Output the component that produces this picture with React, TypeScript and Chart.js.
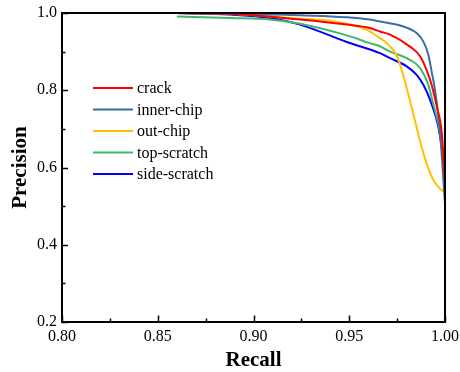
import React, { useEffect, useRef } from "react";
import { Chart, registerables } from "chart.js";

Chart.register(...registerables);

// ---- data ----
const seriesNames = ["crack", "inner-chip", "out-chip", "top-scratch", "side-scratch"];
const seriesColors = ["#ff0000", "#3a6ea5", "#ffc000", "#3cb96a", "#0000ff"];

const xTickValues = [0.8, 0.85, 0.9, 0.95, 1.0];
const yTickValues = [0.2, 0.4, 0.6, 0.8, 1.0];
const xMinorTicks = [0.825, 0.875, 0.925, 0.975];
const yMinorTicks = [0.3, 0.5, 0.7, 0.9];

const crackRecall = [0.86, 0.8877, 0.9243, 0.9487, 0.9608, 0.966, 0.9713, 0.9817, 0.987, 0.9904, 0.993, 0.9957, 0.9983, 1.0];
const crackPrecision = [1.0, 0.998, 0.983, 0.97, 0.961, 0.952, 0.944, 0.913, 0.888, 0.852, 0.814, 0.758, 0.69, 0.56];

const innerRecall = [0.86, 0.8877, 0.9243, 0.9608, 0.966, 0.9782, 0.9852, 0.9887, 0.9913, 0.993, 0.9948, 0.9974, 1.0];
const innerPrecision = [1.0, 0.998, 0.994, 0.983, 0.978, 0.965, 0.948, 0.926, 0.892, 0.849, 0.8, 0.69, 0.505];

const outRecall = [0.86, 0.8877, 0.9243, 0.94, 0.959, 0.966, 0.9695, 0.9748, 0.978, 0.98, 0.9835, 0.987, 0.9904, 0.9939, 0.9974, 1.0];
const outPrecision = [1.0, 0.998, 0.985, 0.98, 0.957, 0.935, 0.922, 0.89, 0.842, 0.806, 0.738, 0.668, 0.61, 0.568, 0.545, 0.536];

const topRecall = [0.86, 0.8877, 0.9086, 0.9243, 0.9487, 0.9608, 0.966, 0.9713, 0.98, 0.987, 0.9913, 0.9937, 0.9974, 1.0];
const topPrecision = [0.991, 0.987, 0.983, 0.972, 0.942, 0.922, 0.914, 0.9, 0.883, 0.857, 0.814, 0.767, 0.69, 0.57];

const sideRecall = [0.86, 0.8877, 0.9086, 0.9243, 0.9487, 0.966, 0.9713, 0.98, 0.9852, 0.9887, 0.9922, 0.9965, 0.999, 1.0];
const sidePrecision = [1.0, 0.996, 0.987, 0.97, 0.925, 0.896, 0.883, 0.862, 0.84, 0.814, 0.775, 0.706, 0.628, 0.59];

const allRecall = [crackRecall, innerRecall, outRecall, topRecall, sideRecall];
const allPrecision = [crackPrecision, innerPrecision, outPrecision, topPrecision, sidePrecision];

const FONT = "'Liberation Serif', 'Times New Roman', serif";

const decorPlugin = {
  id: "decor",
  afterDraw(chart: any) {
    const ctx = chart.ctx as CanvasRenderingContext2D;
    const { left, right, top, bottom } = chart.chartArea;
    const xs = chart.scales.x;
    const ys = chart.scales.y;
    ctx.save();
    ctx.strokeStyle = "#000";
    ctx.lineWidth = 2;
    ctx.strokeRect(left, top, right - left, bottom - top);
    ctx.lineWidth = 1.5;
    ctx.beginPath();
    for (const v of xTickValues) {
      const px = Math.round(xs.getPixelForValue(v)) + 0.5;
      ctx.moveTo(px, bottom);
      ctx.lineTo(px, bottom - 6.5);
    }
    for (const v of xMinorTicks) {
      const px = Math.round(xs.getPixelForValue(v)) + 0.5;
      ctx.moveTo(px, bottom);
      ctx.lineTo(px, bottom - 3.5);
    }
    for (const v of yTickValues) {
      const py = Math.round(ys.getPixelForValue(v)) + 0.5;
      ctx.moveTo(left, py);
      ctx.lineTo(left + 6, py);
    }
    for (const v of yMinorTicks) {
      const py = Math.round(ys.getPixelForValue(v)) + 0.5;
      ctx.moveTo(left, py);
      ctx.lineTo(left + 3.5, py);
    }
    ctx.stroke();

    // axis titles
    ctx.fillStyle = "#000";
    ctx.font = `bold 21px ${FONT}`;
    ctx.textAlign = "center";
    ctx.textBaseline = "alphabetic";
    ctx.fillText("Recall", (left + right) / 2, 366);
    ctx.save();
    ctx.translate(26, (top + bottom) / 2);
    ctx.rotate(-Math.PI / 2);
    ctx.fillText("Precision", 0, 0);
    ctx.restore();

    // legend
    ctx.font = `16px ${FONT}`;
    ctx.textAlign = "left";
    ctx.textBaseline = "middle";
    seriesNames.forEach((name, i) => {
      const y = 88 + i * 21.5;
      ctx.strokeStyle = seriesColors[i];
      ctx.lineWidth = 2;
      ctx.beginPath();
      ctx.moveTo(93, y);
      ctx.lineTo(133, y);
      ctx.stroke();
      ctx.fillStyle = "#000";
      ctx.fillText(name, 137, y + 1);
    });
    ctx.restore();
  },
};

export default function App() {
  const ref = useRef<HTMLCanvasElement | null>(null);
  useEffect(() => {
    document.body.style.margin = "0";
    const canvas = ref.current;
    if (!canvas) return;
    const datasets = seriesNames.map((name, i) => ({
      label: name,
      data: allRecall[i].map((r, j) => ({ x: r, y: allPrecision[i][j] })),
      borderColor: seriesColors[i],
      backgroundColor: seriesColors[i],
      borderWidth: 2,
      pointRadius: 0,
      fill: false,
      cubicInterpolationMode: "monotone" as const,
    }));
    const chart = new Chart(canvas, {
      type: "line",
      data: { datasets },
      options: {
        responsive: false,
        animation: false,
        devicePixelRatio: 1,
        layout: { padding: { left: 0, top: 13, right: 15, bottom: 0 } },
        plugins: { legend: { display: false }, tooltip: { enabled: false } },
        scales: {
          x: {
            type: "linear",
            min: 0.8,
            max: 1.0,
            afterFit: (s: any) => {
              s.height = 50;
              s.paddingLeft = 0;
              s.paddingRight = 0;
            },
            afterBuildTicks: (s: any) => {
              s.ticks = xTickValues.map((v) => ({ value: v }));
            },
            grid: { display: false, drawTicks: false },
            border: { display: false },
            ticks: {
              autoSkip: false,
              maxRotation: 0,
              padding: 5,
              color: "#000",
              font: { family: FONT, size: 16 },
              callback: (v: any) => Number(v).toFixed(2),
            },
          },
          y: {
            type: "linear",
            min: 0.2,
            max: 1.0,
            afterFit: (s: any) => {
              s.width = 62;
              s.paddingTop = 0;
              s.paddingBottom = 0;
            },
            afterBuildTicks: (s: any) => {
              s.ticks = yTickValues.map((v) => ({ value: v }));
            },
            grid: { display: false, drawTicks: false },
            border: { display: false },
            ticks: {
              autoSkip: false,
              padding: 5,
              color: "#000",
              font: { family: FONT, size: 16 },
              callback: (v: any) => Number(v).toFixed(1),
            },
          },
        },
      },
      plugins: [decorPlugin],
    });
    return () => chart.destroy();
  }, []);
  return (
    <div style={{ width: 460, height: 372, background: "#fff" }}>
      <canvas ref={ref} width={460} height={372} style={{ display: "block" }} />
    </div>
  );
}
